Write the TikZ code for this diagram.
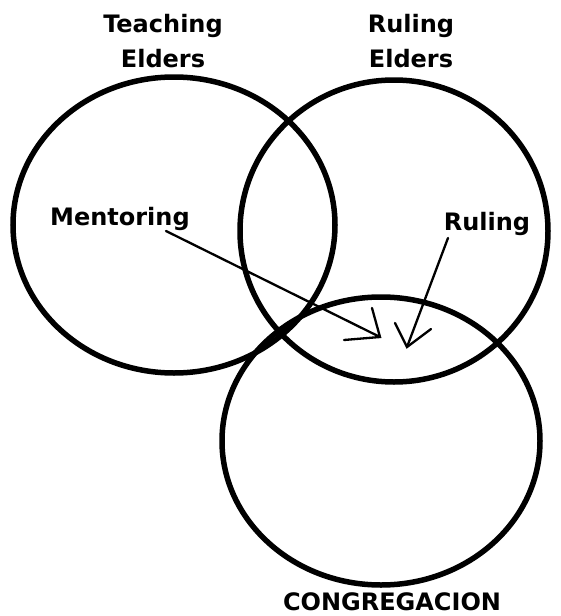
\documentclass[tikz,border=0pt]{standalone}
\usepackage{fontspec}
\setmainfont{DejaVu Sans}
\begin{document}
\begin{tikzpicture}[x=1pt,y=-1pt,
  ring/.style={draw=black,line width=5.5pt},
  ptr/.style={draw=black,line width=2.3pt,line cap=round},
  lbl/.style={font=\bfseries\fontsize{24}{28}\selectfont,anchor=base,inner sep=0pt}]
\useasboundingbox[fill=white] (0,0) rectangle (560,616);
% circles
\draw[ring] (174,225) ellipse [x radius=161, y radius=148];
\draw[ring] (394,231) ellipse [x radius=154, y radius=151];
\draw[ring] (381,441) ellipse [x radius=159, y radius=144];
% labels
\node[lbl] (te1) at (163,32) {Teaching};
\node[lbl] (te2) at (163,67) {Elders};
\node[lbl] (re1) at (411,32) {Ruling};
\node[lbl] (re2) at (411,67) {Elders};
\node[lbl,anchor=base west] (ment) at (50,225) {Mentoring};
\node[lbl] (rul) at (487,230) {Ruling};
\node[lbl] (cong) at (392,610) {CONGREGACION};
% arrows
\coordinate (ms) at (166,231);
\coordinate (mt) at (380,337);
\coordinate (mh1) at (344,340);
\coordinate (mh2) at (372,308);
\coordinate (rs) at (448,238);
\coordinate (rt) at (407,347);
\coordinate (rh1) at (395,323);
\coordinate (rh2) at (431,329);
\draw[ptr] (ms) -- (mt);
\draw[ptr] (mh1) -- (mt) -- (mh2);
\draw[ptr] (rs) -- (rt);
\draw[ptr] (rh1) -- (rt) -- (rh2);
\end{tikzpicture}
\end{document}
